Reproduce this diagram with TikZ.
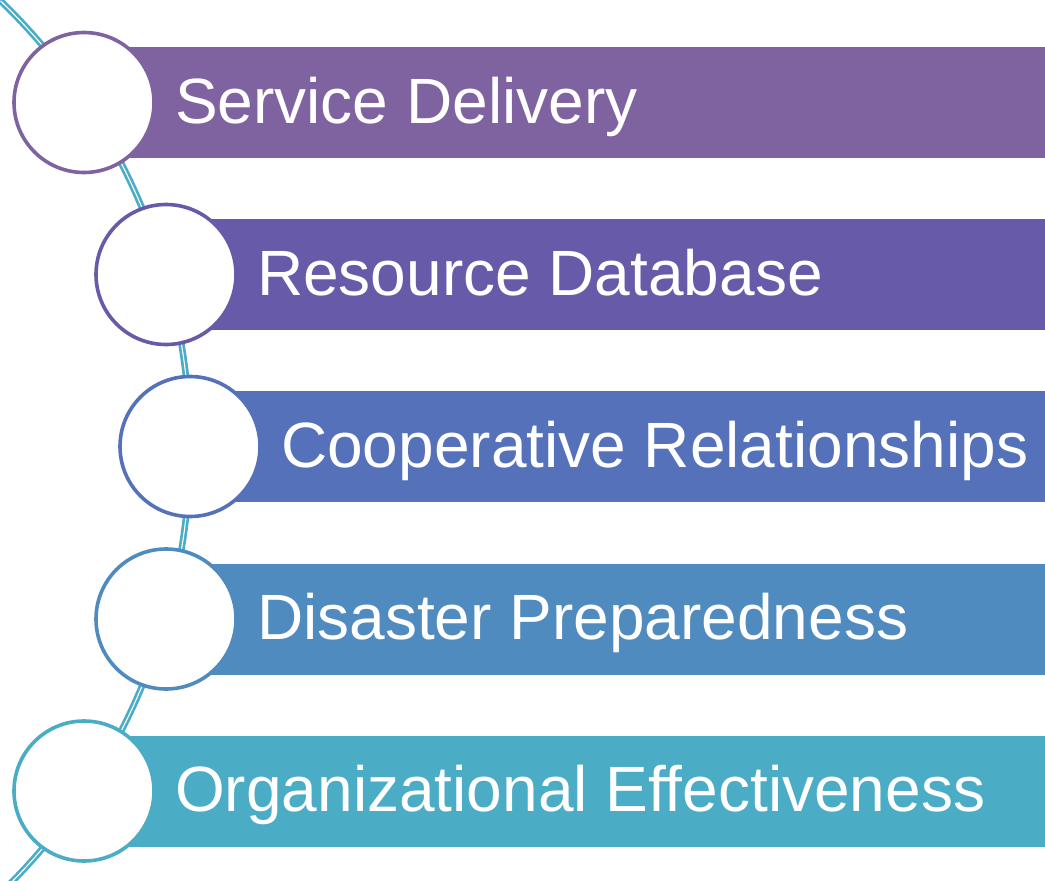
\documentclass[tikz,border=0pt]{standalone}
\usepackage{fontspec}
\setmainfont{Liberation Sans}
\definecolor{cA}{HTML}{7F63A0}
\definecolor{cB}{HTML}{675BA9}
\definecolor{cC}{HTML}{5571B9}
\definecolor{cD}{HTML}{508BC0}
\definecolor{cE}{HTML}{4BACC6}
\tikzset{
  bar/.style={rectangle, fill=#1, draw=none, minimum height=111pt, inner sep=0pt, anchor=west},
  ring/.style={circle, fill=white, draw=#1, line width=3.6pt, minimum size=140pt, inner sep=0pt},
  lbl/.style={anchor=base west, inner sep=0pt, text=white, font=\fontsize{64}{70}\selectfont},
  spine/.style={draw=cE, line width=2.7pt, double=white, double distance=1.1pt, line cap=round}
}
\begin{document}
\begin{tikzpicture}[x=1pt,y=-1pt]
\useasboundingbox (0,0) rectangle (1045,881);
\begin{scope}
\clip (0,0) rectangle (1045,881);
\draw[spine] (-430,447) ++(45:620) arc[start angle=45, end angle=-46, radius=620];
\end{scope}
% bars
\node[bar=cA, minimum width=961pt] (b1) at (84,102.5) {};
\node[bar=cB, minimum width=879pt] (b2) at (166,274.5) {};
\node[bar=cC, minimum width=855pt] (b3) at (190,446.5) {};
\node[bar=cD, minimum width=879pt] (b4) at (166,619) {};
\node[bar=cE, minimum width=961pt] (b5) at (84,791) {};
% circles
\node[ring=cA] (c1) at (84,102.5) {};
\node[ring=cB] (c2) at (166,274.5) {};
\node[ring=cC] (c3) at (190,446.5) {};
\node[ring=cD] (c4) at (166,619) {};
\node[ring=cE] (c5) at (84,791) {};
% labels
\node[lbl] (t1) at (175,123) {Service Delivery};
\node[lbl] (t2) at (257,295) {Resource Database};
\node[lbl] (t3) at (281,467) {Cooperative Relationships};
\node[lbl] (t4) at (257,639.5) {Disaster Preparedness};
\node[lbl] (t5) at (175,811.5) {Organizational Effectiveness};
\end{tikzpicture}
\end{document}
